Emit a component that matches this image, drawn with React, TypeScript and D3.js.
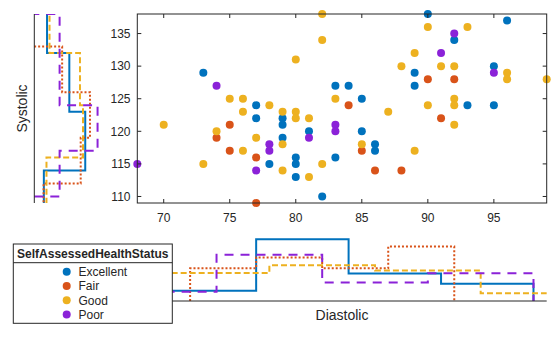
import React from "react";
import * as d3 from "d3";

// ---- Data (patients: Diastolic vs Systolic by SelfAssessedHealthStatus) ----
const groups = ["Excellent", "Fair", "Good", "Poor"];
const groupColors = ["#0072BD", "#D95319", "#EDB120", "#8B22D8"];
const groupDash = ["none", "2,2", "6,3", "9,7"];

const excellentDia = [73, 77, 77, 78, 79, 79, 79, 80, 80, 80, 81, 82, 83, 83, 84, 85, 85, 86, 86, 89, 89, 90, 92, 93, 95, 95, 96];
const excellentSys = [129, 124, 122, 115, 122, 121, 119, 116, 115, 113, 120, 110, 127, 116, 127, 125, 120, 118, 117, 129, 127, 138, 134, 124, 130, 124, 137];
const fairDia = [74, 75, 75, 77, 77, 84, 85, 86, 88, 90, 91, 92];
const fairSys = [119, 121, 117, 116, 109, 124, 117, 114, 114, 128, 122, 128];
const goodDia = [70, 73, 74, 75, 76, 76, 76, 77, 78, 79, 79, 79, 80, 80, 80, 81, 81, 82, 82, 82, 83, 85, 87, 88, 89, 89, 90, 90, 91, 92, 92, 92, 92, 93, 96, 96, 99];
const goodSys = [121, 115, 120, 125, 125, 123, 117, 119, 124, 123, 118, 114, 131, 123, 122, 122, 113, 138, 134, 115, 125, 118, 123, 130, 132, 117, 136, 124, 130, 130, 125, 124, 121, 136, 129, 128, 128];
const poorDia = [68, 74, 77, 78, 78, 81, 83, 83, 91, 92, 95];
const poorSys = [115, 127, 114, 118, 117, 119, 121, 120, 132, 135, 129];

const groupSizes = [34, 15, 40, 11];

// Diastolic histograms (bin edges + counts per group)
const diaEdges = [
  [70, 77, 84, 91, 98],
  [72, 77, 82, 87, 92],
  [70, 78, 86, 94, 102],
  [66, 74, 82, 90, 98],
];
const diaCounts = [
  [3, 18, 8, 5],
  [3, 4, 3, 5],
  [11, 14, 12, 3],
  [1, 5, 2, 3],
];
// Systolic histograms
const sysEdges = [
  [105, 114, 123, 132, 141],
  [105, 112, 119, 126, 133],
  [108, 116, 124, 132, 140],
  [110, 117, 124, 131, 138],
];
const sysCounts = [
  [3, 16, 11, 4],
  [1, 5, 6, 3],
  [4, 16, 15, 5],
  [2, 5, 2, 2],
];

const xTicks = [70, 75, 80, 85, 90, 95];
const yTicks = [110, 115, 120, 125, 130, 135];

const diaByGroup = [excellentDia, fairDia, goodDia, poorDia];
const sysByGroup = [excellentSys, fairSys, goodSys, poorSys];

const FONT = "'Liberation Sans', Arial, Helvetica, sans-serif";
const INK = "#262626";

export default function App() {
  const L = 137.3, R = 546.7, T = 14, B = 203;
  const x = d3.scaleLinear().domain([68, 99]).range([L, R]);
  const y = d3.scaleLinear().domain([109, 138]).range([B, T]);

  // bottom histogram (pdf) scale
  const histBase = 301;
  const hy = d3.scaleLinear().domain([0, 0.1]).range([histBase, histBase - 81.6]);
  // left histogram (pdf) scale
  const leftBase = 34.3;
  const hx = d3.scaleLinear().domain([0, 0.07]).range([leftBase, leftBase + 68.2]);

  const line = d3.line<[number, number]>();

  const bottomPath = (gi: number) => {
    const e = diaEdges[gi];
    const c = diaCounts[gi];
    const n = groupSizes[gi];
    const pts: [number, number][] = [[x(e[0]), hy(0)]];
    c.forEach((cnt, i) => {
      const v = cnt / (n * (e[i + 1] - e[i]));
      pts.push([x(e[i]), hy(v)]);
      pts.push([x(e[i + 1]), hy(v)]);
    });
    pts.push([x(e[e.length - 1]), hy(0)]);
    return line(pts) || "";
  };
  const leftPath = (gi: number) => {
    const e = sysEdges[gi];
    const c = sysCounts[gi];
    const n = groupSizes[gi];
    const pts: [number, number][] = [[hx(0), y(e[0])]];
    c.forEach((cnt, i) => {
      const v = cnt / (n * (e[i + 1] - e[i]));
      pts.push([hx(v), y(e[i])]);
      pts.push([hx(v), y(e[i + 1])]);
    });
    pts.push([hx(0), y(e[e.length - 1])]);
    return line(pts) || "";
  };

  const tickLen = 4;
  const legX = 13.3, legY = 244, legW = 159, legH = 79.3;

  return (
    <svg
      width={560}
      height={337}
      style={{ position: "absolute", left: 0, top: 0, background: "#fff" }}
      fontFamily={FONT}
    >
      <defs>
        <clipPath id="clipBottom">
          <rect x={L} y={200} width={R - L} height={histBase - 200 + 1} />
        </clipPath>
        <clipPath id="clipLeft">
          <rect x={leftBase - 1} y={T} width={100} height={B - T} />
        </clipPath>
        <clipPath id="clipMain">
          <rect x={L - 6} y={T - 6} width={R - L + 12} height={B - T + 12} />
        </clipPath>
      </defs>
      <rect x={0} y={0} width={560} height={337} fill="#fff" />

      {/* Left histogram */}
      <g clipPath="url(#clipLeft)">
        {groups.map((g, gi) => (
          <path
            key={g}
            d={leftPath(gi)}
            fill="none"
            stroke={groupColors[gi]}
            strokeWidth={2}
            strokeDasharray={groupDash[gi]}
          />
        ))}
      </g>
      <line x1={leftBase} x2={leftBase} y1={T} y2={B} stroke={INK} strokeWidth={1} />
      <text
        transform={`translate(26.5,${(T + B) / 2}) rotate(-90)`}
        textAnchor="middle"
        fontSize={14}
        fill={INK}
      >
        Systolic
      </text>

      {/* Bottom histogram */}
      <g clipPath="url(#clipBottom)">
        {groups.map((g, gi) => (
          <path
            key={g}
            d={bottomPath(gi)}
            fill="none"
            stroke={groupColors[gi]}
            strokeWidth={2}
            strokeDasharray={groupDash[gi]}
          />
        ))}
      </g>
      <line x1={L} x2={R} y1={histBase} y2={histBase} stroke={INK} strokeWidth={1} />
      <text x={(L + R) / 2} y={320} textAnchor="middle" fontSize={14} fill={INK}>
        Diastolic
      </text>

      {/* Scatter axes */}
      <g clipPath="url(#clipMain)">
        {groups.map((g, gi) =>
          diaByGroup[gi].map((d, i) => (
            <circle
              key={g + i}
              cx={x(d)}
              cy={y(sysByGroup[gi][i])}
              r={4}
              fill={groupColors[gi]}
            />
          ))
        )}
      </g>
      <rect x={L} y={T} width={R - L} height={B - T} fill="none" stroke={INK} strokeWidth={1} />
      {xTicks.map((t) => (
        <g key={"x" + t}>
          <line x1={x(t)} x2={x(t)} y1={B} y2={B - tickLen} stroke={INK} />
          <line x1={x(t)} x2={x(t)} y1={T} y2={T + tickLen} stroke={INK} />
          <text x={x(t)} y={221.5} textAnchor="middle" fontSize={12} fill={INK}>
            {t}
          </text>
        </g>
      ))}
      {yTicks.map((t) => (
        <g key={"y" + t}>
          <line x1={L} x2={L + tickLen} y1={y(t)} y2={y(t)} stroke={INK} />
          <line x1={R} x2={R - tickLen} y1={y(t)} y2={y(t)} stroke={INK} />
          <text x={130.5} y={y(t) + 4.2} textAnchor="end" fontSize={12} fill={INK}>
            {t}
          </text>
        </g>
      ))}

      {/* Legend */}
      <rect x={legX} y={legY} width={legW} height={legH} fill="#fff" stroke={INK} strokeWidth={1} />
      <line x1={legX} x2={legX + legW} y1={262.7} y2={262.7} stroke={INK} strokeWidth={1} />
      <text x={legX + legW / 2} y={258} textAnchor="middle" fontSize={12} fontWeight="bold" fill={INK}>
        SelfAssessedHealthStatus
      </text>
      {groups.map((g, gi) => (
        <g key={"leg" + g}>
          <circle cx={66.7} cy={271.7 + gi * 14.3} r={4} fill={groupColors[gi]} />
          <text x={78.5} y={271.7 + gi * 14.3 + 4.2} fontSize={12} fill={INK}>
            {g}
          </text>
        </g>
      ))}
    </svg>
  );
}
